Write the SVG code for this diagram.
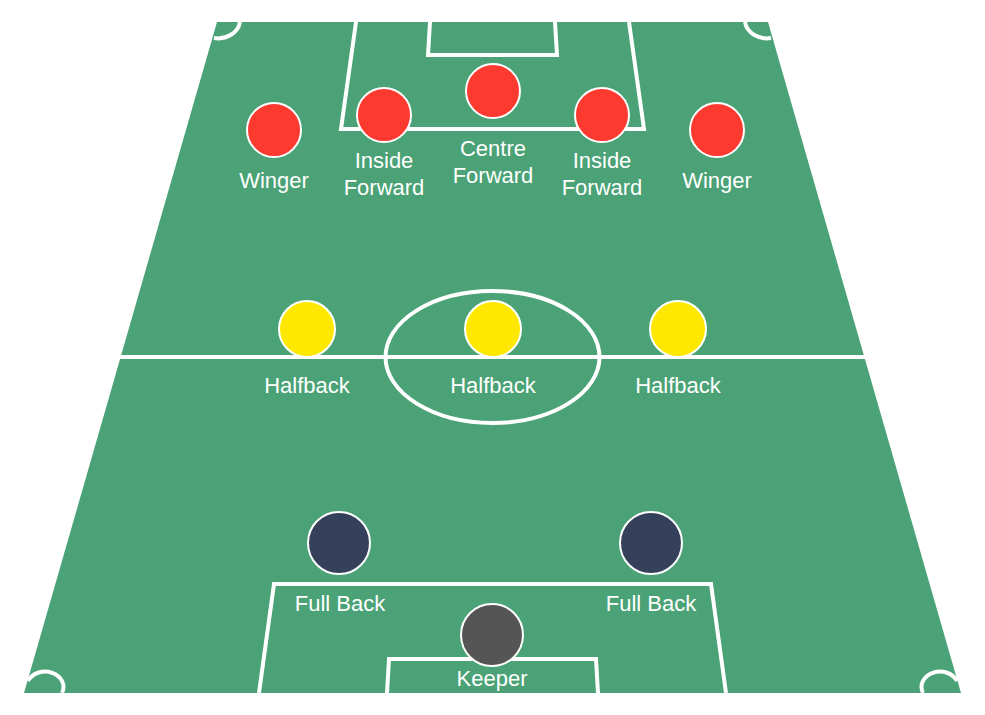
<svg xmlns="http://www.w3.org/2000/svg" width="985" height="715" viewBox="0 0 985 715">
<style>
.line{fill:none;stroke:#ffffff;stroke-width:4;stroke-linejoin:miter}
.pl{stroke:#ffffff;stroke-width:2}
.fw{fill:#fc3a30}
.hb{fill:#ffe800}
.fb{fill:#35405a}
.gk{fill:#555555}
.lbl{font-family:"Liberation Sans",Arial,sans-serif;font-size:22px;fill:#ffffff;text-anchor:middle}
</style>
<rect width="985" height="715" fill="#ffffff"/>
<g id="field">
<polygon points="217,22 768,22 961,693 24,693" fill="#4aa276"/>
<line class="line" x1="120" y1="357" x2="865" y2="357"/>
<ellipse class="line" cx="492.5" cy="357" rx="107" ry="66"/>
<polyline class="line" points="356,22 341,129 644,129 629,22"/>
<polyline class="line" points="430,22 428,55 557,55 555,22"/>
<polyline class="line" points="259,693 274,584 711,584 726,693"/>
<polyline class="line" points="387,693 389,659 596,659 598,693"/>
<path class="line" d="M240 22 A22 19 0 0 1 214 38"/>
<path class="line" d="M745 22 A22 19 0 0 0 771 38"/>
<path class="line" d="M28 681 A18 15 0 0 1 62 693"/>
<path class="line" d="M957 681 A18 15 0 0 0 923 693"/>
</g>
<g id="connectors"></g>
<g id="winger-left"><circle class="fw pl" cx="274" cy="130" r="27"/><text class="lbl" x="274" y="188">Winger</text></g>
<g id="inside-forward-left"><circle class="fw pl" cx="384" cy="115" r="27"/><text class="lbl" x="384" y="168">Inside</text><text class="lbl" x="384" y="195">Forward</text></g>
<g id="centre-forward"><circle class="fw pl" cx="493" cy="91" r="27"/><text class="lbl" x="493" y="156">Centre</text><text class="lbl" x="493" y="183">Forward</text></g>
<g id="inside-forward-right"><circle class="fw pl" cx="602" cy="115" r="27"/><text class="lbl" x="602" y="168">Inside</text><text class="lbl" x="602" y="195">Forward</text></g>
<g id="winger-right"><circle class="fw pl" cx="717" cy="130" r="27"/><text class="lbl" x="717" y="188">Winger</text></g>
<g id="halfback-left"><circle class="hb pl" cx="307" cy="329" r="28"/><text class="lbl" x="307" y="393">Halfback</text></g>
<g id="halfback-centre"><circle class="hb pl" cx="493" cy="329" r="28"/><text class="lbl" x="493" y="393">Halfback</text></g>
<g id="halfback-right"><circle class="hb pl" cx="678" cy="329" r="28"/><text class="lbl" x="678" y="393">Halfback</text></g>
<g id="fullback-left"><circle class="fb pl" cx="339" cy="543" r="31"/><text class="lbl" x="340" y="611">Full Back</text></g>
<g id="fullback-right"><circle class="fb pl" cx="651" cy="543" r="31"/><text class="lbl" x="651" y="611">Full Back</text></g>
<g id="keeper"><circle class="gk pl" cx="492" cy="635" r="31"/><text class="lbl" x="492" y="686">Keeper</text></g>
</svg>
